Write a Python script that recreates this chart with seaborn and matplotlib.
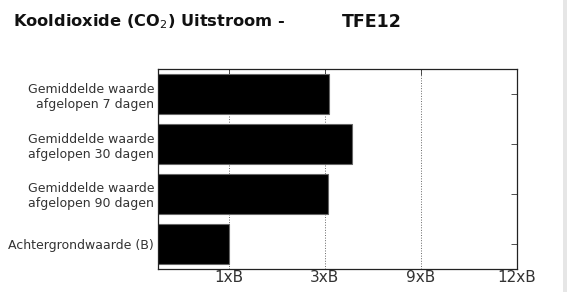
import numpy as np
import pandas as pd
import matplotlib
matplotlib.use('Agg')
import matplotlib.pyplot as plt
import seaborn as sns
from matplotlib.patches import Rectangle

# waarden in veelvouden van de achtergrondwaarde B
categorieen = ['Gemiddelde waarde\nafgelopen 7 dagen',
               'Gemiddelde waarde\nafgelopen 30 dagen',
               'Gemiddelde waarde\nafgelopen 90 dagen',
               'Achtergrondwaarde (B)']
waarden = [3.28, 4.73, 3.18, 1.0]
tick_waarden = [1, 3, 9, 12]
tick_labels = ['1xB', '3xB', '9xB', '12xB']

# schaal: gelijke afstand tussen de ticks
knopen = [0, 1, 3, 9, 12]
posities = [0, 1, 2, 3, 4]

def fwd(x):
    return np.interp(x, knopen, posities)

def inv(p):
    return np.interp(p, posities, knopen)

datos = pd.DataFrame({'cat': categorieen, 'val': waarden})

sns.set_style('white')
fig = plt.figure(figsize=(5.67, 2.92), dpi=100)
ax = fig.add_axes([158.3 / 567, 1 - 269 / 292, (516.7 - 158.3) / 567, 200 / 292])

ax.set_xscale('function', functions=(fwd, inv))
sns.barplot(data=datos, x='val', y='cat', ax=ax, color='black', width=0.81,
            edgecolor='#666666', linewidth=0.8, saturation=1)

ax.set_xlim(0.267, 12)
ax.set_ylim(3.5, -0.5)
ax.set_xticks(tick_waarden)
ax.set_xticklabels(tick_labels, fontsize=11, color='#333333')
ax.xaxis.set_minor_locator(matplotlib.ticker.NullLocator())
ax.tick_params(axis='x', which='major', bottom=False, top=True, direction='in',
               length=4, width=0.6, color='#333333', pad=1)
ax.tick_params(axis='y', left=False, right=True, direction='in', length=4,
               width=0.6, color='#333333', labelsize=9, pad=3)
for lbl in ax.get_yticklabels():
    lbl.set_color('#333333')
    lbl.set_horizontalalignment('right')
    lbl.set_multialignment('right')
ax.grid(axis='x', linestyle=':', color='#666666', linewidth=0.7)
ax.set_axisbelow(True)
ax.set_xlabel('')
ax.set_ylabel('')
for s in ax.spines.values():
    s.set_visible(True)
    s.set_color('#222222')
    s.set_linewidth(0.9)

fig.text(13 / 567, 1 - 22 / 292, r'Kooldioxide (CO$_2$) Uitstroom -', fontsize=11.7,
         fontweight='bold', va='center', ha='left', color='#111111')
fig.text(342 / 567, 1 - 22 / 292, 'TFE12', fontsize=12.5, fontweight='bold',
         va='center', ha='left', color='#111111')

fig.patches.append(Rectangle((563 / 567, 0), 4 / 567, 1, transform=fig.transFigure,
                             facecolor='#e6e6e6', edgecolor='none'))

fig.savefig('out.png', dpi=100)
